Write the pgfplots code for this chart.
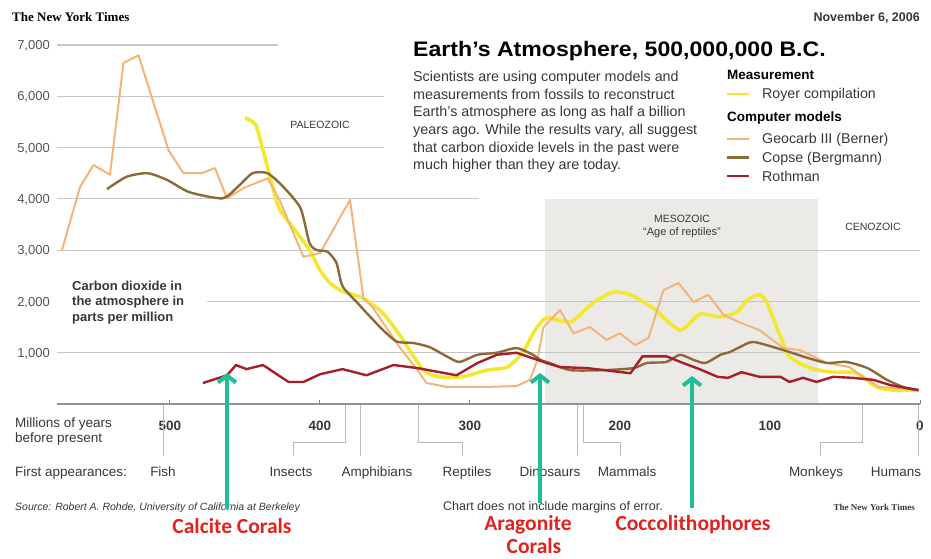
\documentclass[border=0pt]{standalone}
\usepackage{pgfplots}
\pgfplotsset{compat=1.18}
\usepackage{fontspec}
\setmainfont{Liberation Sans}
\newfontfamily\nytserif{Liberation Serif}
\newfontfamily\calibri{Carlito}
\usepackage{graphicx}
\usetikzlibrary{arrows.meta}

\definecolor{royer}{RGB}{242,232,48}
\definecolor{geocarb}{RGB}{244,180,120}
\definecolor{copse}{RGB}{140,105,55}
\definecolor{rothman}{RGB}{165,30,40}
\definecolor{gridgray}{RGB}{198,198,198}
\definecolor{mesogray}{RGB}{236,234,230}
\definecolor{txtgray}{RGB}{55,55,55}
\definecolor{lblgray}{RGB}{85,85,85}
\definecolor{arrowteal}{RGB}{30,190,150}
\definecolor{annred}{RGB}{226,34,30}

\newcommand\fs[2]{\fontsize{#1}{#2}\selectfont}

\begin{document}
\begin{tikzpicture}[x=1pt,y=1pt]
% page frame (all content stays inside it)
\path (0,0) rectangle (931,558);

\begin{axis}[
  at={(62pt,154pt)}, anchor=south west,
  scale only axis, width=858pt, height=359pt,
  x dir=reverse, xmin=0, xmax=572, ymin=0, ymax=7000,
  clip=false,
  axis line style={draw=none},
  ytick={1000,2000,...,7000},
  yticklabels={{1,000},{2,000},{3,000},{4,000},{5,000},{6,000},{7,000}},
  ytick style={draw=none},
  yticklabel style={font=\fs{13}{13}, text=lblgray, anchor=base east,
    inner sep=0pt, xshift=-12pt, yshift=-4.6pt},
  xtick={0,100,200,300,400,500},
  xticklabels={0,100,200,300,400,500},
  xtick pos=left, tick align=inside, major tick length=4pt,
  xtick style={draw=gray, line width=1pt},
  xticklabel style={font=\bfseries\fs{13.5}{13.5}, text=txtgray, anchor=base,
    inner sep=0pt, yshift=-26pt},
]

% Mesozoic band and partial grid lines
\fill[mesogray] (250,0) rectangle (68,4000);
\draw[gridgray, line width=1.2pt] (575,7000) -- (428,7000);
\draw[gridgray, line width=1.2pt] (575,6000) -- (357,6000);
\draw[gridgray, line width=1.2pt] (575,5000) -- (357,5000);
\draw[gridgray, line width=1.2pt] (575,4000) -- (294,4000);
\draw[gridgray, line width=1.2pt] (575,3000) -- (0,3000);
\draw[gridgray, line width=1.2pt] (475,2000) -- (0,2000);
\draw[gridgray, line width=1.2pt] (575,1000) -- (0,1000);
\draw[gray!85, line width=1.6pt] (575,0) -- (0,0);

% Royer compilation
\addplot[royer, line width=3.6pt, smooth, tension=0.4] coordinates {
(450,5580) (443,5450) (438,4950) (433,4400) (427,3800) (415,3330) (407,3000)
(400,2610) (393,2350) (385,2200) (371,2060) (358,1770) (347,1350) (331,660)
(320,530) (305,530) (289,660) (275,720) (265,1000) (257,1420) (249,1680)
(233,1600) (218,1970) (205,2180) (193,2130) (178,1870) (160,1440) (147,1750)
(133,1700) (122,1790) (115,2030) (107,2130) (102,1970) (93,1310) (87,920)
(73,700) (58,620) (45,620) (38,530) (29,330) (18,270) (1,270)};

% Geocarb III (Berner)
\addplot[geocarb, line width=2pt, line join=round] coordinates {
(572,3000) (560,4230) (551,4660) (540,4470) (531,6650) (521,6800) (501,4950)
(491,4500) (479,4500) (470,4600) (462,4010) (451,4210) (435,4400) (427,3980)
(411,2870) (400,2940) (380,3980) (371,2060) (365,1890) (348,1150) (335,660)
(329,410) (315,330) (293,330) (269,350) (260,470) (255,860) (251,1500)
(240,1830) (231,1380) (220,1500) (209,1250) (200,1380) (190,1150) (181,1290)
(171,2220) (161,2360) (151,1990) (141,2130) (131,1740) (121,1600) (107,1440)
(91,1090) (80,1050) (62,800) (47,720) (38,530) (27,330) (13,310) (1,270)};

% Copse (Bergmann)
\addplot[copse, line width=2.4pt, smooth, tension=0.4] coordinates {
(542,4190) (529,4430) (515,4500) (502,4370) (487,4130) (465,4010) (455,4230)
(445,4500) (435,4500) (425,4250) (413,3820) (407,3140) (402,3000) (395,2970)
(389,2750) (385,2300) (375,1970) (360,1500) (349,1220) (338,1190) (327,1110)
(315,920) (307,820) (295,960) (282,1000) (269,1090) (258,960) (253,860)
(247,800) (233,660) (211,660) (191,700) (182,800) (169,820) (160,960)
(151,860) (143,800) (133,960) (127,1010) (120,1110) (111,1210) (91,1050)
(75,900) (62,800) (49,820) (35,700) (22,470) (11,330) (1,270)};

% Rothman
\addplot[rothman, line width=2.4pt, line join=round] coordinates {
(478,410) (462,560) (456,760) (449,680) (438,760) (421,430) (411,430)
(400,580) (385,680) (369,560) (351,760) (335,700) (309,560) (295,800)
(282,960) (269,1000) (255,860) (249,800) (240,720) (222,700) (193,600)
(185,930) (169,930) (158,800) (147,680) (135,530) (128,510) (119,620)
(107,530) (93,530) (87,430) (78,510) (69,430) (58,530) (45,510) (31,470)
(20,370) (9,310) (1,270)};
\end{axis}

\begin{scope}[yshift=558pt, y=-1pt]
% header
\node[anchor=base west, inner sep=0] at (12,22) {\nytserif\bfseries\fs{13}{13}The New York Times};
\node[anchor=base east, inner sep=0, text=txtgray] at (920,22) {\bfseries\fs{12.5}{12.5}November 6, 2006};
\node[anchor=base west, inner sep=0] at (413,57)
  {\scalebox{1.1}[1]{\bfseries\fs{21}{21}Earth’s Atmosphere, 500,000,000 B.C.}};

\foreach \t [count=\i from 0] in {
  {Scientists are using computer models and},
  {measurements from fossils to reconstruct},
  {Earth’s atmosphere as long as half a billion},
  {years ago. While the results vary, all suggest},
  {that carbon dioxide levels in the past were},
  {much higher than they are today.}}
  \node[anchor=base west, inner sep=0, text=txtgray, font=\fs{14.3}{14.3}] at (413,{82+17.5*\i}) {\t};

% legend
\node[anchor=base west, inner sep=0, font=\bfseries\fs{13.5}{13.5}] at (727,80) {Measurement};
\node[anchor=base west, inner sep=0, font=\bfseries\fs{13.5}{13.5}] at (727,122) {Computer models};
\node[anchor=base west, inner sep=0, text=txtgray, font=\fs{14.2}{14.2}] at (762,99) {Royer compilation};
\node[anchor=base west, inner sep=0, text=txtgray, font=\fs{14.2}{14.2}] at (762,144) {Geocarb III (Berner)};
\node[anchor=base west, inner sep=0, text=txtgray, font=\fs{14.2}{14.2}] at (762,162.5) {Copse (Bergmann)};
\node[anchor=base west, inner sep=0, text=txtgray, font=\fs{14.2}{14.2}] at (762,181) {Rothman};
\draw[royer, line width=2.6pt] (727,94) -- (749,94);
\draw[geocarb, line width=2.6pt] (727,139) -- (749,139);
\draw[copse, line width=2.6pt] (727,157.5) -- (749,157.5);
\draw[rothman, line width=2.6pt] (727,176) -- (749,176);

% y label
\node[anchor=base west, inner sep=0, font=\bfseries\fs{13}{13}, text=txtgray] at (72,290) {Carbon dioxide in};
\node[anchor=base west, inner sep=0, font=\bfseries\fs{13}{13}, text=txtgray] at (72,305.5) {the atmosphere in};
\node[anchor=base west, inner sep=0, font=\bfseries\fs{13}{13}, text=txtgray] at (72,321) {parts per million};

% eras
\node[font=\fs{10.5}{10.5}, text=txtgray] at (320,125) {PALEOZOIC};
\node[font=\fs{10.5}{10.5}, text=txtgray] at (682,219) {MESOZOIC};
\node[font=\fs{11}{11}, text=txtgray] at (682,233) {“Age of reptiles”};
\node[font=\fs{10.5}{10.5}, text=txtgray] at (873,227) {CENOZOIC};

% bottom labels
\node[anchor=base west, inner sep=0, font=\fs{13.5}{13.5}, text=txtgray] at (15,427) {Millions of years};
\node[anchor=base west, inner sep=0, font=\fs{13.5}{13.5}, text=txtgray] at (15,442) {before present};
\node[anchor=base west, inner sep=0, font=\fs{13.5}{13.5}, text=txtgray] at (15,476) {First appearances:};
\foreach \x/\t in {163/Fish, 291/Insects, 377/Amphibians, 467/Reptiles, 550/Dinosaurs,
                   627/Mammals, 816/Monkeys, 896/Humans}
  \node[anchor=base, inner sep=0, font=\fs{13.5}{13.5}, text=txtgray] at (\x,476) {\t};

% first-appearance leaders
\begin{scope}[gray!55, line width=0.8pt]
\draw (163,405) -- (163,456);
\draw (345,405) -- (345,442) -- (293,442) -- (293,456);
\draw (360,405) -- (360,456);
\draw (418,405) -- (418,442) -- (462,442) -- (462,456);
\draw (577,405) -- (577,456);
\draw (583,405) -- (583,442) -- (620,442) -- (620,456);
\draw (862,405) -- (862,442) -- (820,442) -- (820,456);
\draw (918,405) -- (918,456);
\end{scope}

% footer
\node[anchor=base west, inner sep=0, font=\itshape\fs{10.5}{10.5}, text=txtgray] at (15,510)
  {Source: Robert A. Rohde, University of California at Berkeley};
\node[anchor=base west, inner sep=0, font=\fs{12.5}{12.5}, text=txtgray] at (443,510)
  {Chart does not include margins of error.};
\node[anchor=base east, inner sep=0, font=\nytserif\bfseries\fs{9}{9}, text=txtgray] at (915,510)
  {The New York Times};

% annotations
\node[anchor=base, inner sep=0, font=\calibri\bfseries\fs{21.5}{21.5}, text=annred] at (232,533) {Calcite Corals};
\node[anchor=base, inner sep=0, font=\calibri\bfseries\fs{21.5}{21.5}, text=annred] at (528,530) {Aragonite};
\node[anchor=base, inner sep=0, font=\calibri\bfseries\fs{21.5}{21.5}, text=annred] at (534,553) {Corals};
\node[anchor=base, inner sep=0, font=\calibri\bfseries\fs{21.5}{21.5}, text=annred] at (693,530) {Coccolithophores};
\begin{scope}[arrowteal, line width=4pt, -{Straight Barb[length=7pt, width=18pt]}]
\draw (227,509) -- (227,373);
\draw (540,503) -- (540,373);
\draw (692,508) -- (692,376);
\end{scope}
\end{scope}
\end{tikzpicture}
\end{document}
